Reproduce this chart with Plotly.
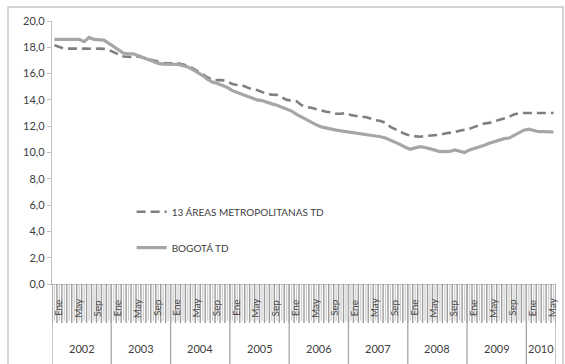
import plotly.graph_objects as go

# Monthly series, Jan 2002 - Jun 2010
years = ["2002", "2003", "2004", "2005", "2006", "2007", "2008", "2009", "2010"]
months = ["Ene", "Feb", "Mar", "Abr", "May", "Jun", "Jul", "Ago", "Sep", "Oct", "Nov", "Dic"]
months_per_year = [12, 12, 12, 12, 12, 12, 12, 12, 6]

areas13_td = [
    18.15, 18.05, 17.9, 17.9, 17.88, 17.9, 17.9, 17.88, 17.88, 17.9, 17.88, 17.8,
    17.6, 17.45, 17.3, 17.25, 17.25, 17.3, 17.2, 17.1, 16.95, 16.85, 16.8, 16.78,
    16.8, 16.78, 16.7, 16.6, 16.4, 16.2, 15.95, 15.7, 15.55, 15.5, 15.5, 15.4,
    15.2, 15.13, 15.1, 14.95, 14.8, 14.75, 14.6, 14.45, 14.4, 14.38, 14.2, 14.0,
    13.95, 13.9, 13.6, 13.45, 13.4, 13.3, 13.15, 13.1, 13.05, 12.95, 12.95, 13.0,
    12.85, 12.75, 12.7, 12.7, 12.55, 12.45, 12.4, 12.25, 11.95, 11.75, 11.6, 11.4,
    11.28, 11.25, 11.2, 11.25, 11.28, 11.3, 11.35, 11.45, 11.48, 11.55, 11.65, 11.72,
    11.8, 11.95, 12.1, 12.2, 12.25, 12.35, 12.5, 12.6, 12.7, 12.9, 12.98, 13.0,
    13.0, 13.0, 13.0, 13.0, 13.0, 13.0,
]

bogota_td = [
    18.6, 18.6, 18.6, 18.6, 18.6, 18.6, 18.43, 18.75, 18.6, 18.6, 18.55, 18.3,
    18.05, 17.8, 17.55, 17.5, 17.5, 17.35, 17.2, 17.05, 16.9, 16.78, 16.72, 16.7,
    16.72, 16.7, 16.6, 16.5, 16.3, 16.1, 15.85, 15.55, 15.35, 15.25, 15.1, 14.95,
    14.7, 14.55, 14.4, 14.3, 14.15, 14.0, 13.95, 13.8, 13.7, 13.6, 13.45, 13.3,
    13.15, 12.9, 12.7, 12.5, 12.25, 12.1, 11.95, 11.85, 11.75, 11.7, 11.65, 11.6,
    11.55, 11.5, 11.45, 11.35, 11.3, 11.25, 11.2, 11.1, 10.95, 10.8, 10.6, 10.4,
    10.25, 10.35, 10.44, 10.38, 10.3, 10.18, 10.06, 10.05, 10.08, 10.2, 10.12, 10.0,
    10.2, 10.3, 10.4, 10.55, 10.7, 10.82, 10.95, 11.05, 11.1, 11.3, 11.5, 11.7,
    11.78, 11.65, 11.58, 11.58, 11.58, 11.56,
]

y_ticks = [0, 2, 4, 6, 8, 10, 12, 14, 16, 18, 20]
shown_months = ["Ene", "May", "Sep"]

FONT = "Lato, 'Open Sans', sans-serif"
TEXT = "#404040"
AXIS = "#bfbfbf"

n = len(bogota_td)
x = list(range(n))

fig = go.Figure()
fig.add_trace(go.Scatter(
    x=x, y=areas13_td, mode="lines", name="13 ÁREAS METROPOLITANAS TD",
    line=dict(color="#7f7f7f", width=2.6, dash="9px,5px"), legendgroup="a",
))
fig.add_trace(go.Scatter(
    x=x, y=bogota_td, mode="lines", name="BOGOTÁ TD",
    line=dict(color="#a6a6a6", width=3.2), legendgroup="b",
))

shapes = []
annotations = []

# month tick "barcode" under the axis
for i in range(n + 1):
    shapes.append(dict(type="line", xref="x", yref="paper", x0=i - 0.5, x1=i - 0.5,
                       y0=0, y1=-0.148, line=dict(color="#9c9c9c", width=1.4)))
for i in range(n):
    shapes.append(dict(type="line", xref="x", yref="paper", x0=i, x1=i,
                       y0=-0.005, y1=-0.14, line=dict(color="#cccccc", width=1.2)))

# year group separators and labels
start = 0
for yr, cnt in zip(years, months_per_year):
    shapes.append(dict(type="line", xref="x", yref="paper", x0=start - 0.5, x1=start - 0.5,
                       y0=0, y1=-0.32, line=dict(color="#a8a8a8", width=1.3)))
    annotations.append(dict(x=start + (cnt - 1) / 2, y=-0.247, xref="x", yref="paper",
                            text=yr, showarrow=False, yanchor="middle",
                            font=dict(family=FONT, size=11, color=TEXT)))
    for k in range(cnt):
        if months[k] in shown_months:
            annotations.append(dict(x=start + k + 0.6, y=-0.09, xref="x", yref="paper",
                                    text=months[k], textangle=-90, showarrow=False,
                                    yanchor="middle", xanchor="center",
                                    font=dict(family=FONT, size=10, color="#4a4a4a")))
    start += cnt
shapes.append(dict(type="line", xref="x", yref="paper", x0=n - 0.5, x1=n - 0.5,
                   y0=0, y1=-0.32, line=dict(color="#a8a8a8", width=1.3)))

# chart border
shapes.append(dict(type="rect", xref="paper", yref="paper", x0=-0.0873, x1=1.0139,
                   y0=-0.35, y1=1.053, line=dict(color="#c8c8c8", width=1.5),
                   fillcolor="rgba(0,0,0,0)"))

fig.update_layout(
    width=565, height=364,
    margin=dict(l=52, r=9, t=21, b=80),
    paper_bgcolor="white", plot_bgcolor="white",
    separators=",.",
    font=dict(family=FONT, size=11, color=TEXT),
    showlegend=True,
    legend=dict(x=0.158, y=0.33, xanchor="left", yanchor="top",
                bgcolor="rgba(0,0,0,0)", font=dict(family=FONT, size=10, color=TEXT),
                tracegroupgap=17, itemwidth=30),
    shapes=shapes,
    annotations=annotations,
)
fig.update_xaxes(range=[-0.5, n - 0.5], showticklabels=False, ticks="",
                 showline=True, linecolor=AXIS, linewidth=1.3, showgrid=False, zeroline=False)
fig.update_yaxes(range=[0, 20], tickvals=y_ticks, tickformat=".1f", ticks="outside",
                 ticklen=4, tickcolor=AXIS, showline=True, linecolor=AXIS, linewidth=1.3,
                 showgrid=False, zeroline=False, tickfont=dict(family=FONT, size=11, color=TEXT))

fig.write_html("out.html")
